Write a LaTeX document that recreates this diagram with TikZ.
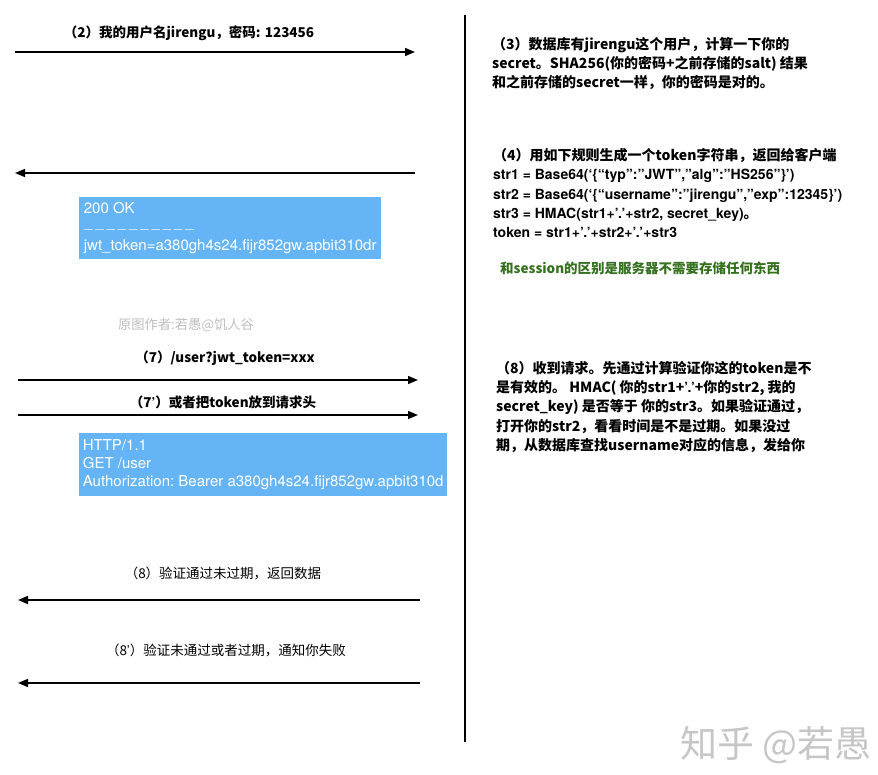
\documentclass[tikz,border=0pt]{standalone}
\usepackage{fontspec}
\setmainfont{Noto Sans CJK SC}
\newfontfamily\latinfont{TeX Gyre Heros}
\newfontfamily\latinbold{texgyreheros-bold.otf}
\newcommand{\strfont}{\latinbold\fontsize{14}{19.3}\selectfont}
\usetikzlibrary{arrows.meta}
\definecolor{pktblue}{RGB}{101,180,245}
\definecolor{notegreen}{RGB}{52,112,30}
\definecolor{markgray}{RGB}{190,190,190}
\tikzset{
  msg/.style={line width=1.5pt,-{Triangle[length=10pt,width=8pt]}},
  lbl/.style={inner sep=0pt,font=\bfseries\fontsize{13.5}{16}\selectfont},
  lbllight/.style={inner sep=0pt,font=\fontsize{13.5}{16}\selectfont},
  note/.style={inner sep=0pt,anchor=north west,align=left,font=\bfseries\fontsize{14}{19.3}\selectfont},
  pkt/.style={fill=pktblue,text=white,anchor=north west,align=left,inner sep=0pt,
    font=\latinfont\frenchspacing\fontsize{15}{18.3}\selectfont}
}
\begin{document}
\begin{tikzpicture}[x=1pt,y=-1pt]
\useasboundingbox (0,0) rectangle (878,774);
% ---------- server line ----------
\draw[line width=1.6pt] (465,15) -- (465,742);
% ---------- login ----------
\coordinate (c2) at (15,52);
\coordinate (s2) at (415,52);
\draw[msg] (c2) -- (s2);
\node[lbl] (l2) at (189,33) {（2）我的用户名jirengu，密码: 123456};
\node[note] (n3) at (492,37) {（3）数据库有jirengu这个用户，计算一下你的\\
secret。SHA256(你的密码+之前存储的salt) 结果\\
和之前存储的secret一样，你的密码是对的。};
% ---------- token back ----------
\coordinate (s4) at (415,173);
\coordinate (c4) at (15,173);
\draw[msg] (s4) -- (c4);
\node[pkt,minimum width=302pt,minimum height=62pt] (p4) at (79,197)
  {200 OK\\{\fontsize{8.8}{12}\selectfont — — — — — — — — — —}\\jwt\_token=a380gh4s24.fijr852gw.apbit310dr};
\node[note] (n4) at (493,148) {（4）用如下规则生成一个token字符串，返回给客户端\\
{\strfont str1 = Base64(‘\{“typ”:”JWT”,”alg”:”HS256”\}’)}\\
{\strfont str2 = Base64(‘\{“username”:”jirengu”,”exp”:12345\}’)}\\
{\strfont str3 = HMAC(str1+’.’+str2, secret\_key)}。\\
{\strfont token = str1+’.’+str2+’.’+str3}};
\node[inner sep=0pt,anchor=west,text=notegreen,font=\bfseries\fontsize{13.5}{16}\selectfont] (diff) at (500,268)
  {和session的区别是服务器不需要存储任何东西};
\node[inner sep=0pt,text=markgray,font=\fontsize{13.3}{15}\selectfont] (mark) at (186,325) {原图作者:若愚@饥人谷};
% ---------- request with token ----------
\coordinate (c7) at (18,380);
\coordinate (s7) at (418,380);
\draw[msg] (c7) -- (s7);
\node[lbl] (l7) at (225,358) {（7）/user?jwt\_token=xxx};
\coordinate (c7b) at (18,415);
\coordinate (s7b) at (418,415);
\draw[msg] (c7b) -- (s7b);
\node[lbl] (l7b) at (223,402) {（7{\latinfont ’}）或者把token放到请求头};
\node[pkt,minimum width=368pt,minimum height=63pt] (p7) at (79,433)
  {HTTP/1.1\\GET /user\\Authorization: Bearer a380gh4s24.fijr852gw.apbit310d};
\node[note] (n8) at (496,361) {（8）收到请求。先通过计算验证你这的token是不\\
是有效的。 HMAC( 你的str1+{\latinfont ’.’}+你的str2, 我的\\
secret\_key) 是否等于 你的str3。如果验证通过，\\
打开你的str2，看看时间是不是过期。如果没过\\
期，从数据库查找username对应的信息，发给你};
% ---------- response ----------
\coordinate (s8) at (420,600);
\coordinate (c8) at (18,600);
\draw[msg] (s8) -- (c8);
\node[lbllight] (l8) at (223,573) {（8）验证通过未过期，返回数据};
\coordinate (s8b) at (420,683);
\coordinate (c8b) at (18,683);
\draw[msg] (s8b) -- (c8b);
\node[lbllight] (l8b) at (226,650) {（8{\latinfont ’}）验证未通过或者过期，通知你失败};
% ---------- watermark ----------
\node[inner sep=0pt,text=gray!45,font=\fontsize{37}{42}\selectfont] (zhihu) at (776,745) {知乎 @若愚};
\end{tikzpicture}
\end{document}
